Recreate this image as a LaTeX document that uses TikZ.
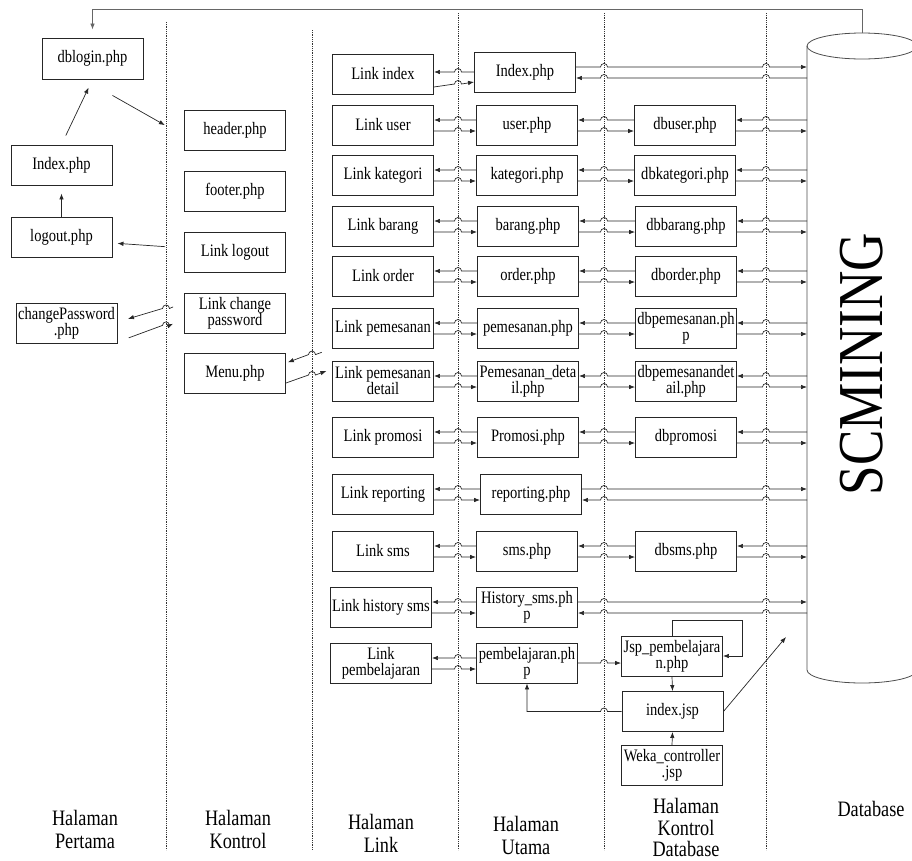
\documentclass[tikz,border=0pt]{standalone}
\usepackage{fontspec}
\setmainfont{Liberation Serif}[FakeStretch=0.83]
\usepackage{tikz}
\usetikzlibrary{
    arrows.meta,
    positioning,
    calc
}
% small bump where a connector crosses a dotted lane line
\newcommand{\hopR}[3]{-- ($(#1 |- #2)+(-3.5pt,#3)$) arc[start angle=180,end angle=0,radius=3.5pt]}
\newcommand{\hopL}[3]{-- ($(#1 |- #2)+(3.5pt,#3)$) arc[start angle=0,end angle=180,radius=3.5pt]}

\begin{document}
\begin{tikzpicture}[
    x=1pt, y=-1pt,
    box/.style={
        rectangle,
        draw=black!85,
        line width=0.9pt,
        minimum width=101pt,
        minimum height=40pt,
        inner sep=1pt,
        align=center,
        font=\fontsize{17.5}{16}\selectfont
    },
    divider/.style={densely dotted, line width=0.8pt, black!80},
    colname/.style={align=center, anchor=south, inner sep=0pt, font=\fontsize{22}{23}\selectfont},
    arr/.style={line width=0.7pt, black!85, -{Latex[length=6pt,width=4.5pt]}},
    dbline/.style={line width=0.8pt, black!70}
]
\useasboundingbox (0,0) rectangle (912,860);

% Lane dividers
\coordinate (v1) at (166,22);
\coordinate (v2) at (312,30);
\coordinate (v3) at (458,13);
\coordinate (v4) at (604,13);
\coordinate (v5) at (766,13);
\foreach \v in {v1,v2,v3,v4,v5}
    \draw[divider] (\v) -- (\v |- 0,850);

% Database cylinder
\coordinate (cyl) at (807,46);
\coordinate (cyltop) at (862,33);
\draw[dbline] (cyl) -- (807,670) arc[start angle=180,end angle=360,x radius=55pt,y radius=13pt];
\draw[dbline] (862,46) ellipse[x radius=55pt,y radius=13pt];
\node[rotate=90, font=\fontsize{64}{64}\selectfont] (scm) at (862,364) {SCMINING};

% Halaman Pertama
\node[box, minimum height=41pt] (dblogin) at (92.5,58.5) {dblogin.php};
\node[box] (index) at (61.5,165) {Index.php};
\node[box] (logout) at (61.5,237) {logout.php};
\node[box] (chpass) at (66.5,323) {changePassword\\.php};

% Halaman Kontrol
\node[box] (header) at (235,130) {header.php};
\node[box] (footer) at (235,191) {footer.php};
\node[box] (llogout) at (235,252) {Link logout};
\node[box] (lchpass) at (235,313) {Link change\\password};
\node[box] (menu) at (235,373) {Menu.php};

% Halaman Link
\node[box] (lindex) at (383,74) {Link index};
\node[box] (luser) at (383,125) {Link user};
\node[box] (lkat) at (383,175) {Link kategori};
\node[box] (lbarang) at (383,226) {Link barang};
\node[box] (lorder) at (383,276) {Link order};
\node[box] (lpesan) at (383,328) {Link pemesanan};
\node[box] (lpdet) at (383,381) {Link pemesanan\\detail};
\node[box] (lpromo) at (383,437) {Link promosi};
\node[box] (lreport) at (383,494) {Link reporting};
\node[box] (lsms) at (383,551) {Link sms};
\node[box] (lhist) at (381,607) {Link history sms};
\node[box] (lajar) at (381,663) {Link\\pembelajaran};

% Halaman Utama
\node[box] (uindex) at (525,72) {Index.php};
\node[box] (uuser) at (527,125) {user.php};
\node[box] (ukat) at (527,175) {kategori.php};
\node[box] (ubarang) at (528,226) {barang.php};
\node[box] (uorder) at (528,276) {order.php};
\node[box] (upesan) at (528,328) {pemesanan.php};
\node[box] (updet) at (528,381) {Pemesanan\_deta\\il.php};
\node[box] (upromo) at (528,437) {Promosi.php};
\node[box] (ureport) at (531,494) {reporting.php};
\node[box] (usms) at (527,551) {sms.php};
\node[box] (uhist) at (527,607) {History\_sms.ph\\p};
\node[box] (uajar) at (527,663) {pembelajaran.ph\\p};

% Halaman Kontrol Database
\node[box] (dbuser) at (685,125) {dbuser.php};
\node[box] (dbkat) at (685,175) {dbkategori.php};
\node[box] (dbbarang) at (686,226) {dbbarang.php};
\node[box] (dborder) at (686,276) {dborder.php};
\node[box] (dbpesan) at (686,328) {dbpemesanan.ph\\p};
\node[box] (dbpdet) at (686,381) {dbpemesanandet\\ail.php};
\node[box] (dbpromo) at (686,437) {dbpromosi};
\node[box] (dbsms) at (686,551) {dbsms.php};
\node[box] (jsp) at (672,656) {Jsp\_pembelajara\\n.php};
\node[box] (ijsp) at (672.5,711.5) {index.jsp};
\node[box] (weka) at (672,765.5) {Weka\_controller\\.jsp};

% Lane names (placed by the baseline of their last line)
\node[colname] (n1) at (85,849) {Halaman\\Pertama};
\node[colname] (n2) at (238,849) {Halaman\\Kontrol};
\node[colname] (n3) at (381,853) {Halaman\\Link};
\node[colname] (n4) at (526,855) {Halaman\\Utama};
\node[colname, font=\fontsize{22}{21.5}\selectfont] (n5) at (686,857) {Halaman\\Kontrol\\Database};
\node[colname] (n6) at (871,817) {Database};

% Arrows - first page
\draw[arr, black!60, shorten >=8pt] (cyltop) -- ++(0,24pt) -| (dblogin.north);
\draw[arr, shorten <=10pt, shorten >=9pt] (index.north) -- (dblogin.south);
\draw[arr, shorten >=22pt] ([xshift=20pt,yshift=-16pt]dblogin.south) -- ([yshift=-6pt]header.west);
\draw[arr, shorten >=8pt] (logout.north) -- (index.south);
\draw[arr, shorten <=19pt, shorten >=5pt] ([yshift=4pt]llogout.west) -- ([yshift=-6pt]logout.east);
\draw[arr, shorten <=12pt, shorten >=11pt] ([yshift=11pt]lchpass.west) \hopL{v1}{lchpass}{4.5pt} -- ([yshift=1pt]chpass.east);
\draw[arr, shorten <=12pt, shorten >=12pt] ([yshift=-19pt]chpass.east) \hopR{v1}{lchpass}{-12.4pt} -- ([yshift=-6pt]lchpass.west);

% Arrows - menu
\draw[arr, shorten <=11pt, shorten >=2pt] (lpesan.south west) \hopL{v2}{menu}{18.4pt} -- ([yshift=10pt]menu.east);
\draw[arr, shorten >=6pt] ([yshift=-10pt]menu.east) \hopR{v2}{menu}{-2pt} -- ([yshift=12pt]lpdet.west);

% Arrows - link <-> utama
\draw[arr] (uindex.west) \hopL{v3}{uindex}{0pt} -- (uindex.west -| lindex.east);
\draw[arr] ([yshift=-13pt]lindex.east) \hopR{v3}{lindex}{-10pt} -- ([yshift=-10pt]uindex.west);
\foreach \r in {user,kat,barang,order,pesan,pdet,promo,report,sms,hist,ajar}{
    \draw[arr] ([yshift=5pt]u\r.west) \hopL{v3}{u\r}{5pt} -- ([yshift=5pt]l\r.east);
    \draw[arr] ([yshift=-6pt]l\r.east) \hopR{v3}{l\r}{-6pt} -- ([yshift=-6pt]u\r.west);
}

% Arrows - utama <-> kontrol database <-> database
\foreach \r in {user,kat,barang,order,pesan,pdet,promo,sms}{
    \draw[arr] ([yshift=5pt]db\r.west) \hopL{v4}{db\r}{5pt} -- ([yshift=5pt]u\r.east);
    \draw[arr] ([yshift=-6pt]u\r.east) \hopR{v4}{u\r}{-6pt} -- ([yshift=-6pt]db\r.west);
    \draw[arr] ($(db\r.east -| cyl)+(0,5pt)$) \hopL{v5}{db\r}{5pt} -- ([yshift=5pt]db\r.east);
    \draw[arr] ([yshift=-6pt]db\r.east) \hopR{v5}{db\r}{-6pt} -- ($(db\r.east -| cyl)+(0,-6pt)$);
}

% Arrows - utama <-> database
\foreach \r in {index,report,hist}{
    \draw[arr] ([yshift=5pt]u\r.east) \hopR{v4}{u\r}{5pt} \hopR{v5}{u\r}{5pt} -- ($(u\r.east -| cyl)+(0,5pt)$);
    \draw[arr] ($(u\r.east -| cyl)+(0,-6pt)$) \hopL{v5}{u\r}{-6pt} \hopL{v4}{u\r}{-6pt} -- ([yshift=-6pt]u\r.east);
}

% Pembelajaran
\coordinate (cylin) at (786,637);
\draw[arr] (uajar.east) \hopR{v4}{uajar}{0pt} -- (uajar.east -| jsp.west);
\draw[arr] (jsp.north) -- ++(0,15pt) -| ([xshift=19pt]jsp.east) -- (jsp.east);
\draw[arr] (jsp.south) -- (ijsp.north);
\draw[arr] (weka.north) -- (ijsp.south);
\draw[arr] (ijsp.west) \hopL{v4}{ijsp}{0pt} -| (uajar.south);
\draw[arr] (ijsp.east) -- (cylin);

\end{tikzpicture}
\end{document}
